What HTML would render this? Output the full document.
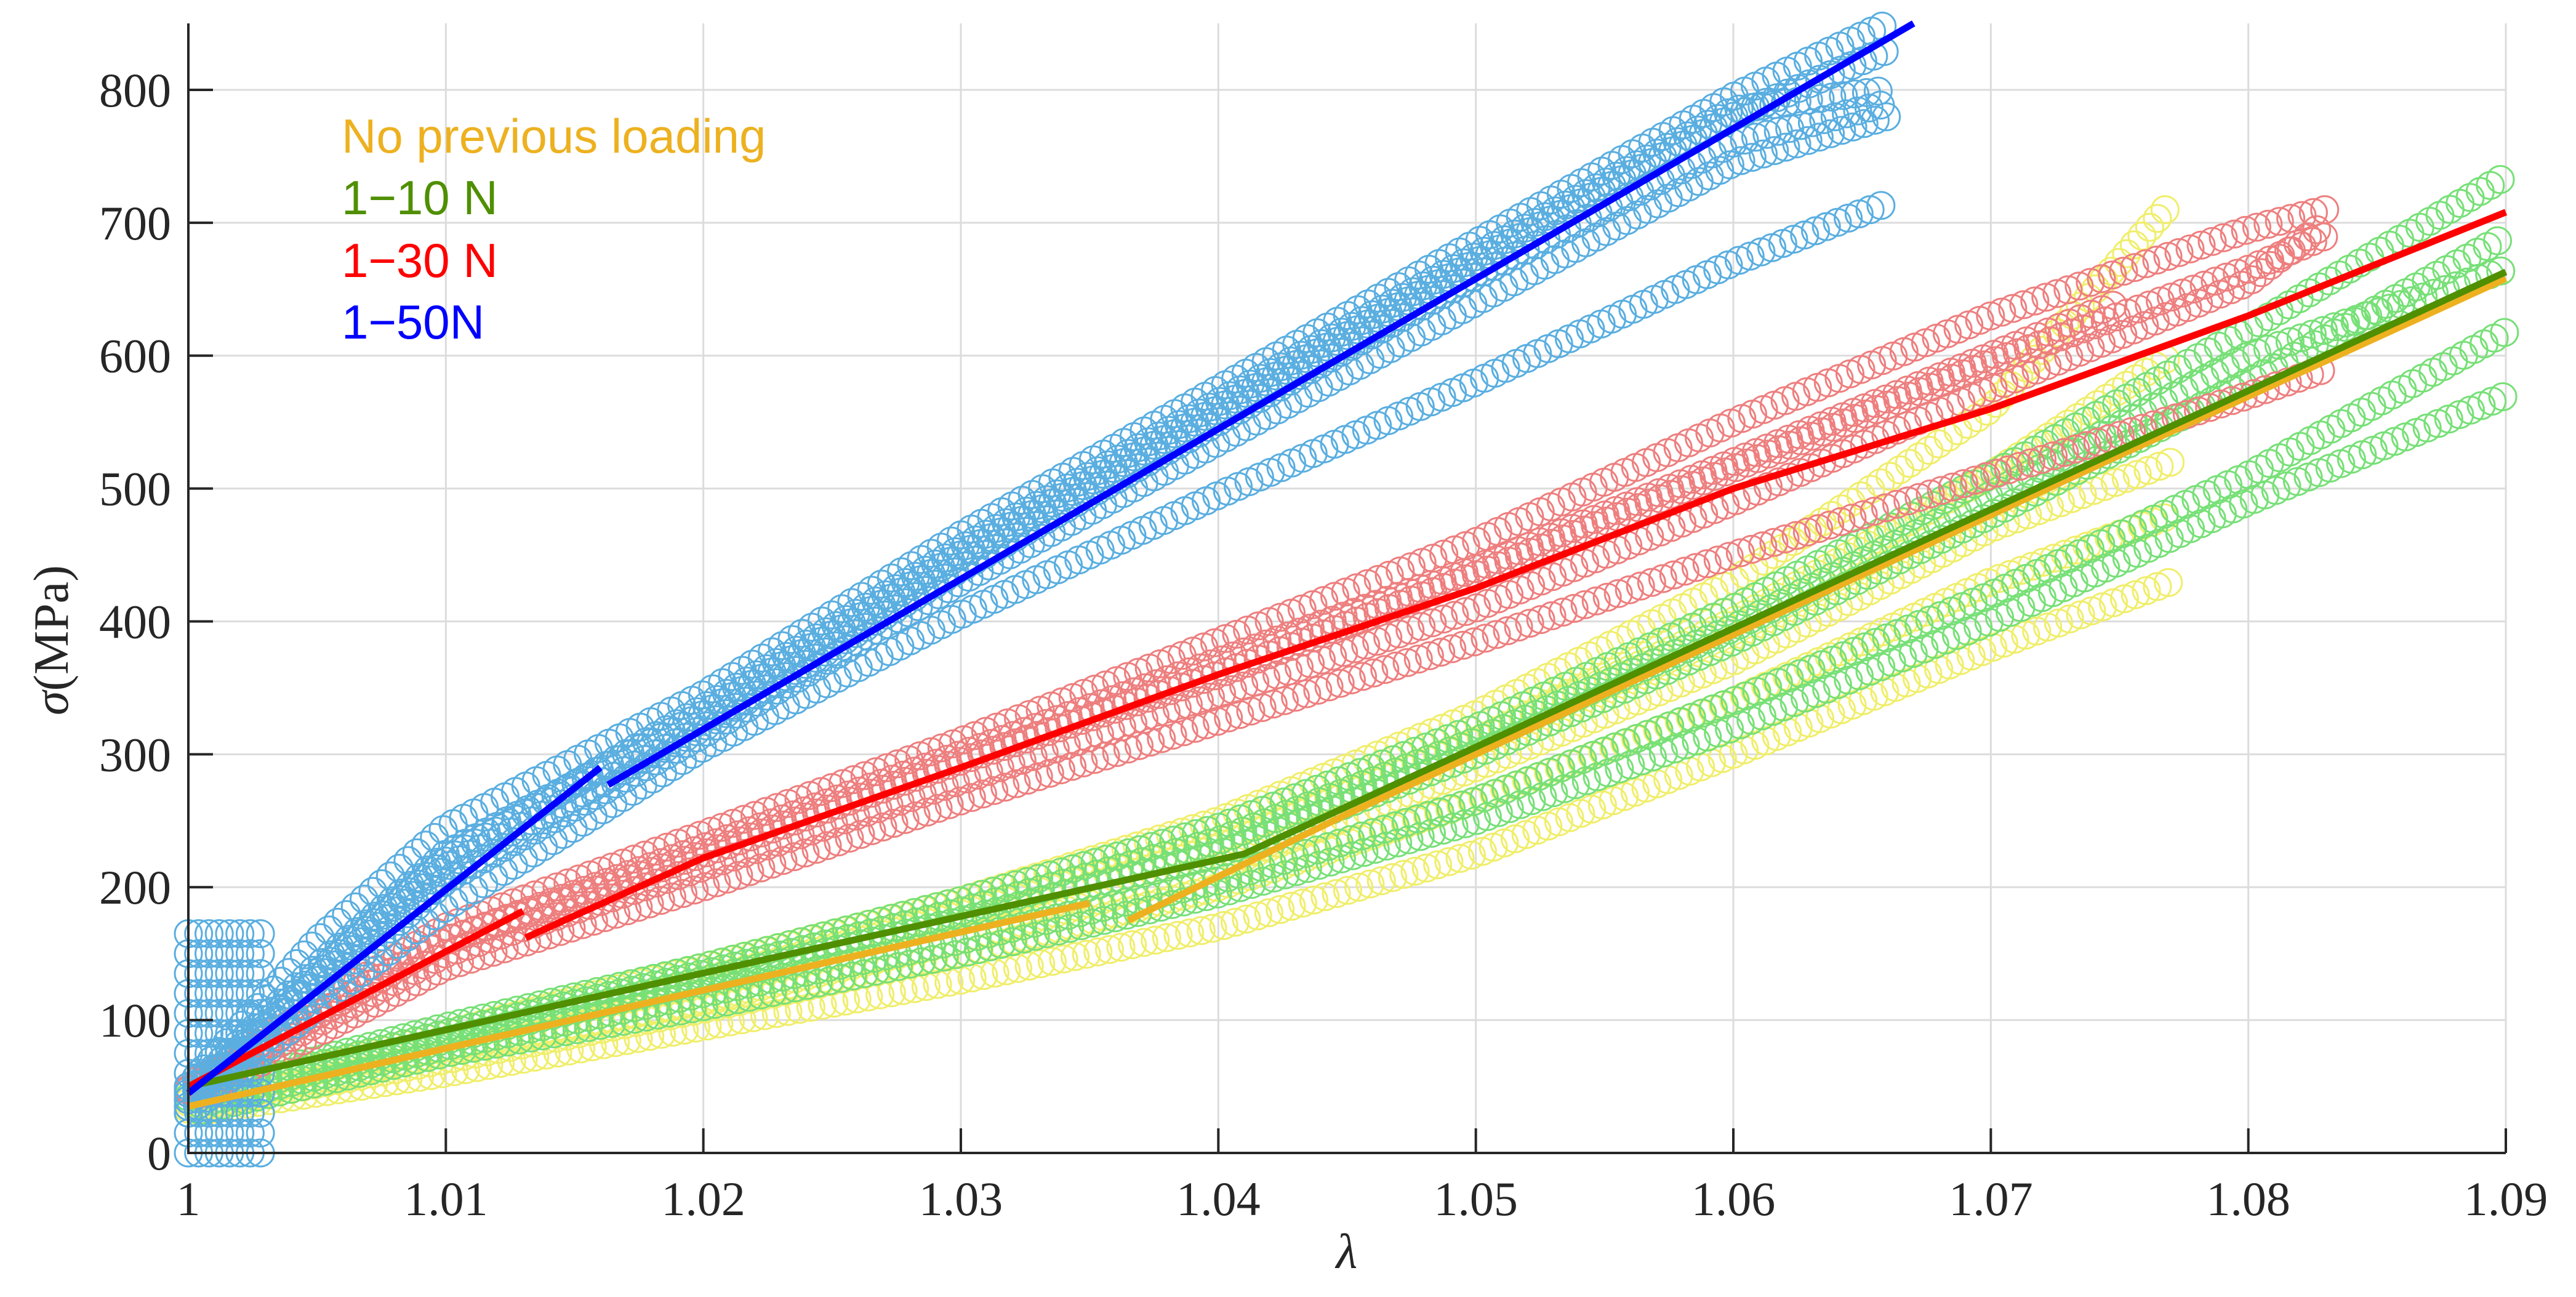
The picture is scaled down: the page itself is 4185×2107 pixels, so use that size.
<!DOCTYPE html>
<html><head><meta charset="utf-8"><style>
html,body{margin:0;padding:0;background:#fff;}
svg{display:block;}
.tick{font-family:"Liberation Serif",serif;font-size:78px;fill:#262626;}
.leg{font-family:"Liberation Sans",sans-serif;font-size:78px;}
</style></head><body>
<svg id="chart" width="4185" height="2107" viewBox="0 0 4185 2107" xmlns="http://www.w3.org/2000/svg">
<g id="grid"></g>
<g id="scatter"></g>
<g id="lines"></g>
<g id="axes"></g>
<g>
<text class="leg" x="555" y="248" fill="#EDB120">No previous loading</text>
<text class="leg" x="555" y="348" fill="#4F8F00">1−10 N</text>
<text class="leg" x="555" y="450" fill="#FF0000">1−30 N</text>
<text class="leg" x="555" y="550" fill="#0000FF">1−50N</text>
</g>
<text x="2188" y="2060" text-anchor="middle" style="font-family:'Liberation Serif',serif;font-size:80px;font-style:italic;fill:#262626">λ</text>
<text transform="translate(110,1040) rotate(-90)" text-anchor="middle" style="font-family:'Liberation Serif',serif;font-size:80px;fill:#262626"><tspan font-style="italic">σ</tspan>(MPa)</text>
</svg>
<script>
const xTicks=[1,1.01,1.02,1.03,1.04,1.05,1.06,1.07,1.08,1.09];
const xTickLabels=["1","1.01","1.02","1.03","1.04","1.05","1.06","1.07","1.08","1.09"];
const yTicks=[0,100,200,300,400,500,600,700,800];
const yTickLabels=["0","100","200","300","400","500","600","700","800"];

// scatter curves: [lambda], [stress]
const blueLam=[1,1.005,1.01,1.02,1.03,1.04,1.05,1.06,1.066];
const blue1=[50,160,245,345,465,575,685,795,850];
const blue2=[40,130,215,320,440,550,660,760,790];
const blue3=[30,110,185,305,405,495,580,670,715];
const blue4=[45,140,225,330,450,560,670,780,830];
const blue5=[40,135,220,335,455,565,675,785,800];
const blue6=[35,120,205,315,430,535,640,745,780];
const blueClusterLam=[1,1.0004,1.0008,1.0012,1.0016,1.002,1.0024,1.0028];
const blueClusterVal=[0,15,30,45,60,75,90,105,120,135,150,165];

const redLam=[1,1.01,1.02,1.03,1.04,1.05,1.06,1.07,1.08,1.083];
const red1=[50,170,240,310,385,460,550,630,695,710];
const red2=[45,150,215,280,345,410,490,575,655,700];
const red3=[40,140,200,265,325,385,450,510,570,590];
const red5=[47,160,225,295,360,435,515,595,665,690];
const red4Lam=[1,1.01,1.02,1.03,1.04,1.05,1.06,1.07,1.075];
const red4=[48,160,230,300,370,440,520,600,640];

const greenLam=[1,1.01,1.02,1.03,1.04,1.05,1.06,1.07,1.08,1.09];
const green1=[45,95,140,190,245,320,410,510,620,735];
const green2=[40,85,130,175,225,300,385,480,580,690];
const green3=[35,80,120,160,205,265,340,420,510,618];
const green4=[30,75,110,150,195,250,320,400,490,570];
const green5=[42,90,135,182,235,310,395,495,600,665];

const yellowLam=[1,1.01,1.02,1.03,1.04,1.05,1.06,1.07,1.077];
const yellow1=[40,90,140,190,250,330,430,560,715];
const yellow2=[35,75,115,160,215,290,370,470,520];
const yellow3=[30,60,95,130,170,225,300,380,430];
const yellow4=[38,85,130,180,235,310,400,510,600];
const yellow5=[33,70,108,150,200,265,340,430,480];

// fit lines
const blueFitA_L=[1,1.016], blueFitA_V=[45,290];
const blueFitB_L=[1.0163,1.067], blueFitB_V=[277,850];
const redFitA_L=[1,1.013], redFitA_V=[50,182];
const redFitB_L=[1.0131,1.02,1.03,1.04,1.05,1.06,1.07,1.08,1.09], redFitB_V=[162,222,290,360,425,500,560,630,708];
const greenFit_L=[1,1.041,1.09], greenFit_V=[50,225,663];
const orangeFitA_L=[1,1.035], orangeFitA_V=[35,188];
const orangeFitB_L=[1.0365,1.045,1.06,1.075,1.09], orangeFitB_V=[175,255,390,525,658];

const X0=306,X1=4071,Y0=1873,Y1=38,XMIN=1,XMAX=1.09,YMIN=0,YMAX=850;
const sx=v=>X0+(v-XMIN)/(XMAX-XMIN)*(X1-X0);
const sy=v=>Y0-(v-YMIN)/(YMAX-YMIN)*(Y0-Y1);
const NS="http://www.w3.org/2000/svg";
function mk(tag,parent){const e=document.createElementNS(NS,tag);parent.appendChild(e);return e;}

const grid=document.getElementById('grid');
xTicks.forEach((t,i)=>{
  const l=mk('line',grid);
  
  
  l.setAttribute('x1',sx(t));l.setAttribute('x2',sx(t));l.setAttribute('y1',Y1);l.setAttribute('y2',Y0);
  l.setAttribute('stroke','#dcdcdc');l.setAttribute('stroke-width','3');
});
yTicks.forEach((t,i)=>{
  const l=mk('line',grid);
  
  
  l.setAttribute('x1',X0);l.setAttribute('x2',X1);l.setAttribute('y1',sy(t));l.setAttribute('y2',sy(t));
  l.setAttribute('stroke','#dcdcdc');l.setAttribute('stroke-width','3');
});

const sc=document.getElementById('scatter');
function circ(g,x,y,color){
  const c=mk('circle',g);
  
  
  c.setAttribute('cx',x.toFixed(1));c.setAttribute('cy',y.toFixed(1));
  c.setAttribute('r','22');c.setAttribute('fill','none');c.setAttribute('stroke',color);c.setAttribute('stroke-width','3');
}
function scatterCurve(L,V,color,name){
  const pts=L.map((l,i)=>[sx(l),sy(V[i])]);
  const g=mk('g',sc);
  
  
  let carry=0;
  for(let i=0;i<pts.length-1;i++){
    const [ax,ay]=pts[i],[bx,by]=pts[i+1];
    const d=Math.hypot(bx-ax,by-ay);
    let s=carry;
    while(s<=d){
      const t=s/d;
      circ(g,ax+(bx-ax)*t,ay+(by-ay)*t,color);
      s+=19;
    }
    carry=s-d;
  }
}
const GC='#77e077',YC='#f0ee6a',RC='#ee7f7f',BC='#5aaee0';
scatterCurve(yellowLam,yellow3,YC,'yellow-series-3');
scatterCurve(yellowLam,yellow5,YC,'yellow-series-5');
scatterCurve(yellowLam,yellow2,YC,'yellow-series-2');
scatterCurve(yellowLam,yellow4,YC,'yellow-series-4');
scatterCurve(yellowLam,yellow1,YC,'yellow-series-1');
scatterCurve(greenLam,green4,GC,'green-series-4');
scatterCurve(greenLam,green3,GC,'green-series-3');
scatterCurve(greenLam,green2,GC,'green-series-2');
scatterCurve(greenLam,green5,GC,'green-series-5');
scatterCurve(greenLam,green1,GC,'green-series-1');
scatterCurve(redLam,red3,RC,'red-series-3');
scatterCurve(redLam,red2,RC,'red-series-2');
scatterCurve(redLam,red5,RC,'red-series-5');
scatterCurve(red4Lam,red4,RC,'red-series-4');
scatterCurve(redLam,red1,RC,'red-series-1');
scatterCurve(blueLam,blue3,BC,'blue-series-3');
scatterCurve(blueLam,blue6,BC,'blue-series-6');
scatterCurve(blueLam,blue2,BC,'blue-series-2');
scatterCurve(blueLam,blue5,BC,'blue-series-5');
scatterCurve(blueLam,blue4,BC,'blue-series-4');
scatterCurve(blueLam,blue1,BC,'blue-series-1');
const cg=mk('g',sc);


blueClusterLam.forEach(l=>blueClusterVal.forEach(v=>circ(cg,sx(l),sy(v),BC)));

const lg=document.getElementById('lines');
function fitLine(L,V,color,name){
  const p=mk('polyline',lg);
  
  
  p.setAttribute('points',L.map((l,i)=>sx(l).toFixed(1)+','+sy(V[i]).toFixed(1)).join(' '));
  p.setAttribute('fill','none');p.setAttribute('stroke',color);p.setAttribute('stroke-width','11');
}
fitLine(orangeFitA_L,orangeFitA_V,'#EDB120','fit-no-previous-loading-a');
fitLine(orangeFitB_L,orangeFitB_V,'#EDB120','fit-no-previous-loading-b');
fitLine(greenFit_L,greenFit_V,'#4F8F00','fit-1-10n');
fitLine(redFitA_L,redFitA_V,'#FF0000','fit-1-30n-a');
fitLine(redFitB_L,redFitB_V,'#FF0000','fit-1-30n-b');
fitLine(blueFitA_L,blueFitA_V,'#0000FF','fit-1-50n-a');
fitLine(blueFitB_L,blueFitB_V,'#0000FF','fit-1-50n-b');

const ax=document.getElementById('axes');
const xa=mk('polyline',ax);


xa.setAttribute('points',`${X0},${Y1} ${X0},${Y0} ${X1},${Y0}`);
xa.setAttribute('fill','none');xa.setAttribute('stroke','#262626');xa.setAttribute('stroke-width','4');
xTicks.forEach((t,i)=>{
  const l=mk('line',ax);
  
  
  l.setAttribute('x1',sx(t));l.setAttribute('x2',sx(t));l.setAttribute('y1',Y0);l.setAttribute('y2',Y0-40);
  l.setAttribute('stroke','#262626');l.setAttribute('stroke-width','4');
  const tx=mk('text',ax);
  
  
  tx.setAttribute('class','tick');tx.setAttribute('x',sx(t));tx.setAttribute('y',1974);tx.setAttribute('text-anchor','middle');
  tx.textContent=xTickLabels[i];
});
yTicks.forEach((t,i)=>{
  const l=mk('line',ax);
  
  
  l.setAttribute('x1',X0);l.setAttribute('x2',X0+40);l.setAttribute('y1',sy(t));l.setAttribute('y2',sy(t));
  l.setAttribute('stroke','#262626');l.setAttribute('stroke-width','4');
  const tx=mk('text',ax);
  
  
  tx.setAttribute('class','tick');tx.setAttribute('x',X0-28);tx.setAttribute('y',sy(t)+27);tx.setAttribute('text-anchor','end');
  tx.textContent=yTickLabels[i];
});
</script>
</body></html>
